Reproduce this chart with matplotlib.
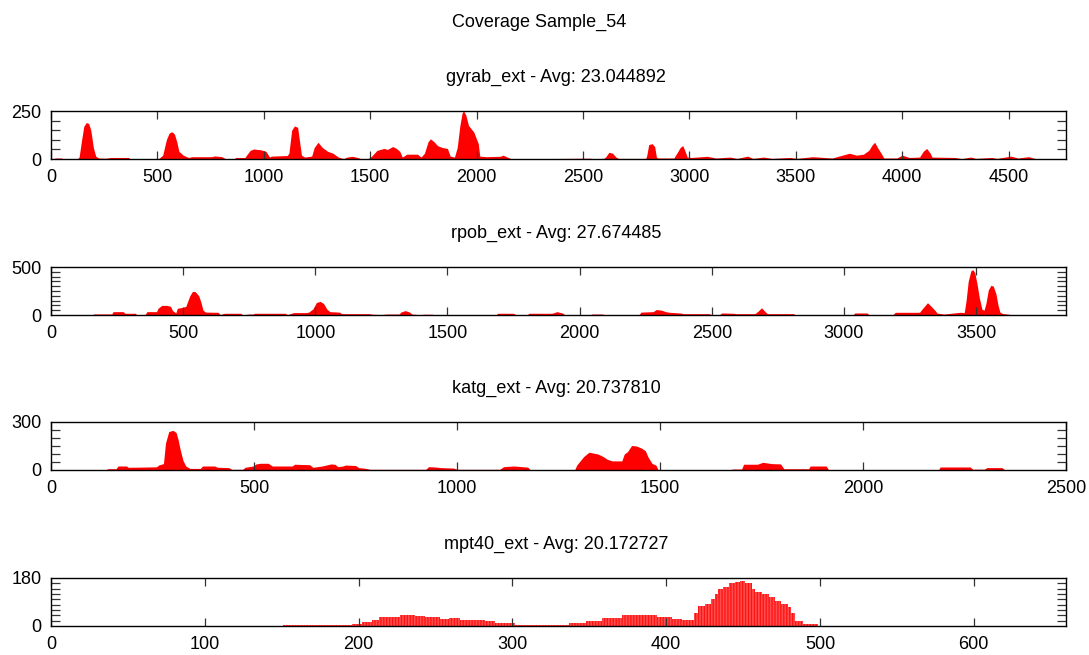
import matplotlib
matplotlib.use("Agg")
import matplotlib.pyplot as plt
from matplotlib.ticker import FixedLocator

plt.rcParams['font.family'] = ['Liberation Sans', 'DejaVu Sans']
plt.rcParams['hatch.linewidth'] = 0.5

sample = "Sample_54"

# gyrab_ext coverage (position, depth)
gyrab_pos = [0, 22, 50, 58, 124, 132, 144, 154, 166, 177, 187, 199, 210, 224, 257, 282, 364, 373,
             505, 525, 542, 555, 568, 580, 591, 601, 621, 646, 662, 753, 770, 803, 820, 861, 869, 911,
             919, 936, 952, 985, 1010, 1027, 1035, 1110, 1118, 1131, 1144, 1159, 1167, 1177, 1192,
             1225, 1237, 1255, 1275, 1300, 1325, 1350, 1375, 1391, 1416, 1441, 1457, 1490, 1507,
             1532, 1565, 1581, 1606, 1623, 1639, 1651, 1672, 1722, 1739, 1755, 1772, 1783, 1800,
             1816, 1838, 1863, 1876, 1896, 1909, 1921, 1932, 1939, 1949, 1962, 1987, 2008, 2015,
             2045, 2111, 2124, 2144, 2161, 2300, 2531, 2548, 2597, 2606, 2622, 2639, 2655, 2667,
             2795, 2800, 2809, 2825, 2837, 2845, 2853, 2927, 2941, 2957, 2969, 2980, 2990, 3010,
             3084, 3125, 3191, 3224, 3274, 3299, 3348, 3389, 3472, 3505, 3579, 3670, 3736, 3752,
             3785, 3818, 3843, 3860, 3871, 3884, 3901, 3914, 3975, 4000, 4033, 4082, 4099, 4115,
             4132, 4140, 4247, 4280, 4322, 4347, 4421, 4445, 4511, 4544, 4594, 4627, 4635]
gyrab_cov = [0, 5, 5, 1, 1, 10, 100, 170, 190, 185, 150, 60, 15, 5, 4, 8, 8, 1,
             1, 20, 100, 135, 142, 130, 90, 40, 20, 8, 12, 12, 16, 12, 2, 2, 8, 8,
             20, 45, 52, 48, 40, 10, 15, 18, 30, 150, 172, 165, 100, 20, 10,
             15, 60, 87, 60, 40, 30, 10, 2, 10, 14, 8, 1, 2, 15,
             45, 55, 50, 65, 55, 40, 10, 25, 25, 10, 30, 90, 105, 90,
             70, 60, 55, 15, 10, 60, 170, 240, 250, 230, 175, 140, 80, 15,
             12, 14, 20, 10, 2, 2, 4, 2, 3, 10, 35, 30, 10, 3,
             3, 20, 75, 80, 65, 10, 5, 5, 30, 60, 70, 40, 10, 8,
             14, 5, 10, 3, 15, 3, 10, 3, 8, 3, 12, 5, 25, 30,
             20, 25, 45, 75, 87, 60, 30, 5, 5, 20, 8, 10, 40, 55,
             30, 10, 8, 2, 10, 3, 8, 3, 15, 5, 12, 2, 0]

rpob_pos = [150, 164, 230, 235, 273, 280, 319, 325, 355, 363, 399, 405, 419, 439, 452, 460, 472,
            478, 499, 510, 525, 535, 545, 559, 567, 575, 585, 632, 640, 657, 718, 725, 749, 765,
            770, 885, 895, 918, 964, 975, 991, 1004, 1018, 1031, 1044, 1055, 1091, 1100, 1204,
            1215, 1250, 1270, 1317, 1323, 1340, 1357, 1365, 1395, 1410, 1443, 1450, 1683, 1690,
            1749, 1760, 1802, 1808, 1893, 1900, 1914, 1934, 1945, 2040, 2046, 2086, 2095, 2225,
            2232, 2278, 2290, 2310, 2325, 2340, 2385, 2390, 2490, 2500, 2530, 2537, 2583, 2590,
            2663, 2675, 2688, 2700, 2710, 2809, 2815, 2880, 2940, 3035, 3041, 3087, 3095, 3185,
            3194, 3286, 3296, 3316, 3330, 3345, 3352, 3379, 3412, 3440, 3455, 3462, 3470, 3480,
            3488, 3495, 3503, 3512, 3522, 3530, 3537, 3546, 3556, 3565, 3575, 3583, 3590, 3600,
            3618, 3630, 3640]
rpob_cov = [0, 11, 11, 35, 35, 18, 18, 2, 2, 35, 35, 70, 100, 100, 90, 46, 21,
            70, 80, 90, 200, 245, 245, 200, 135, 50, 30, 28, 5, 18, 18, 2, 10, 10,
            18, 18, 5, 25, 25, 30, 64, 130, 142, 120, 60, 35, 30, 14, 14,
            8, 5, 10, 10, 30, 46, 30, 10, 3, 8, 8, 1, 1, 18,
            18, 2, 2, 18, 18, 21, 35, 21, 2, 2, 10, 10, 2, 5,
            30, 35, 57, 50, 35, 28, 20, 14, 14, 3, 5, 21, 18, 14,
            14, 40, 75, 40, 14, 14, 2, 5, 5, 3, 21, 21, 2, 3,
            28, 28, 64, 128, 90, 46, 20, 10, 20, 28, 25, 150, 350, 460,
            472, 440, 330, 180, 60, 50, 120, 260, 310, 300, 220, 100, 30, 15,
            10, 5, 0]

katg_pos = [0, 134, 140, 160, 165, 186, 190, 221, 260, 265, 277, 282, 290, 300, 308, 313, 318,
            325, 332, 342, 368, 373, 403, 410, 438, 445, 472, 478, 498, 505, 516, 535, 545, 594,
            600, 637, 645, 654, 668, 690, 700, 706, 719, 725, 750, 758, 776, 785, 923, 930, 949,
            960, 992, 1000, 1105, 1115, 1140, 1174, 1180, 1290, 1295, 1312, 1325, 1347, 1360,
            1370, 1382, 1406, 1412, 1420, 1430, 1442, 1455, 1464, 1470, 1480, 1490, 1495, 1675,
            1680, 1701, 1706, 1740, 1753, 1775, 1797, 1805, 1866, 1870, 1909, 1915, 1987, 1990,
            2186, 2190, 2264, 2270, 2299, 2305, 2342, 2348, 2380]
katg_cov = [0, 0, 8, 8, 25, 25, 17, 18, 20, 31, 40, 168, 240, 248, 235, 190, 130,
            60, 25, 10, 10, 25, 25, 17, 15, 4, 4, 17, 25, 38, 42, 42, 25, 25,
            36, 33, 17, 20, 25, 38, 35, 21, 25, 31, 28, 15, 10, 4, 4, 21, 18,
            15, 12, 4, 4, 21, 25, 18, 3, 3, 31, 84, 111, 100, 84,
            67, 57, 57, 100, 115, 153, 150, 136, 120, 84, 42, 30, 3, 3,
            6, 6, 36, 36, 48, 40, 38, 8, 8, 25, 25, 3, 3, 0,
            0, 19, 19, 5, 5, 15, 15, 3, 0]

# mpt40_ext: run edges and depth per run
mpt40_edges = [151, 196, 202, 209, 213, 221, 227, 237, 243, 253, 259, 266, 282, 289, 302, 337, 348,
               358, 371, 394, 404, 410, 418, 421, 425, 429, 432, 434, 437, 441, 445, 448, 451, 456,
               458, 462, 467, 471, 475, 479, 481, 484, 489, 499]
mpt40_cov = [4, 6, 15, 24, 32, 35, 40, 36, 32, 28, 29, 23, 19, 11, 4, 11, 20, 30, 40, 32, 28, 24,
             47, 74, 83, 102, 121, 137, 147, 160, 166, 170, 163, 140, 126, 119, 109, 93, 83, 73,
             47, 17, 6]

names = ["gyrab_ext", "rpob_ext", "katg_ext", "mpt40_ext"]
avgs = ["23.044892", "27.674485", "20.737810", "20.172727"]
xmax = [4770, 3840, 2500, 660]
xstep = [500, 500, 500, 100]
ymax = [250, 500, 300, 180]
ystep = [50, 50, 50, 20]

W, H = 1089, 655
fig = plt.figure(figsize=(W / 100, H / 100), dpi=100)
fig.text(539 / W, 1 - 22 / H, "Coverage " + sample, ha='center', va='center', fontsize=13)

tops = [111, 267, 422, 578]
ph = 48
left, right = 51, 1066

for i in range(4):
    ax = fig.add_axes([left / W, 1 - (tops[i] + ph) / H, (right - left) / W, ph / H])
    if i == 0:
        ax.fill_between(gyrab_pos, gyrab_cov, color='red', linewidth=0)
    elif i == 1:
        ax.fill_between(rpob_pos, rpob_cov, color='red', linewidth=0)
    elif i == 2:
        ax.fill_between(katg_pos, katg_cov, color='red', linewidth=0)
    else:
        widths = [mpt40_edges[k + 1] - mpt40_edges[k] for k in range(len(mpt40_cov))]
        ax.bar(mpt40_edges[:-1], mpt40_cov, width=widths, align='edge', color='red',
               edgecolor='#ff7070', linewidth=0, hatch='|' * 11)
    ax.set_xlim(0, xmax[i])
    ax.set_ylim(0, ymax[i])
    ax.set_xticks(range(0, xmax[i] + 1, xstep[i]))
    ax.set_yticks([0, ymax[i]])
    ax.yaxis.set_minor_locator(FixedLocator(list(range(ystep[i], ymax[i], ystep[i]))))
    ax.tick_params(axis='x', which='major', direction='in', top=True, bottom=True,
                   length=6, width=0.9, pad=7, labelsize=13, color='#333333')
    ax.tick_params(axis='y', which='major', direction='in', left=True, right=True,
                   length=0, pad=7, labelsize=13)
    ax.tick_params(axis='y', which='minor', direction='in', left=True, right=True,
                   length=6.5, width=0.9, color='#333333')
    for s in ax.spines.values():
        s.set_linewidth(1.0)
    fig.text(556 / W, 1 - (tops[i] - 34) / H, "%s - Avg: %s" % (names[i], avgs[i]),
             ha='center', va='center', fontsize=13)

fig.savefig("out.png", dpi=100)
